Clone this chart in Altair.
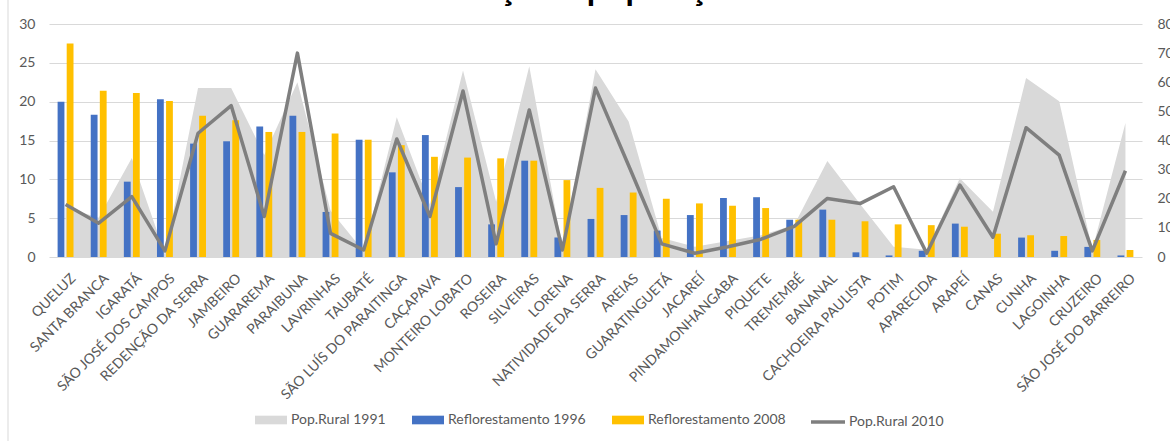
import altair as alt
import pandas as pd

# Municipalities, in the order shown on the category axis
MUNICIPIOS = [
    "QUELUZ", "SANTA BRANCA", "IGARATÁ", "SÃO JOSÉ DOS CAMPOS", "REDENÇÃO DA SERRA",
    "JAMBEIRO", "GUARAREMA", "PARAIBUNA", "LAVRINHAS", "TAUBATÉ",
    "SÃO LUÍS DO PARAITINGA", "CAÇAPAVA", "MONTEIRO LOBATO", "ROSEIRA", "SILVEIRAS",
    "LORENA", "NATIVIDADE DA SERRA", "AREIAS", "GUARATINGUETÁ", "JACAREÍ",
    "PINDAMONHANGABA", "PIQUETE", "TREMEMBÉ", "BANANAL", "CACHOEIRA PAULISTA",
    "POTIM", "APARECIDA", "ARAPEÍ", "CANAS", "CUNHA",
    "LAGOINHA", "CRUZEIRO", "SÃO JOSÉ DO BARREIRO",
]

SERIES = ["Pop.Rural 1991", "Reflorestamento 1996", "Reflorestamento 2008", "Pop.Rural 2010"]

# Reforestation (left axis)
REFLOR_1996 = [20.0, 18.3, 9.7, 20.3, 14.6, 14.9, 16.8, 18.2, 5.8, 15.1,
               10.9, 15.7, 9.0, 4.2, 12.4, 2.5, 4.9, 5.4, 3.4, 5.4,
               7.6, 7.7, 4.8, 6.1, 0.6, 0.2, 0.8, 4.3, 0.0, 2.5,
               0.8, 1.3, 0.2]
REFLOR_2008 = [27.5, 21.4, 21.1, 20.1, 18.2, 17.6, 16.1, 16.1, 15.9, 15.1,
               14.4, 12.9, 12.8, 12.7, 12.4, 9.9, 8.9, 8.3, 7.5, 6.9,
               6.6, 6.3, 4.8, 4.8, 4.6, 4.2, 4.1, 3.9, 3.0, 2.8,
               2.7, 2.2, 0.9]

# Rural population (right axis)
POP_1991 = [17.0, 13.5, 34.0, 1.0, 58.0, 58.0, 35.0, 60.0, 16.0, 2.0,
            48.0, 18.0, 64.0, 19.0, 65.5, 3.0, 64.5, 46.5, 6.5, 3.5,
            5.5, 7.5, 11.0, 33.0, 18.0, 3.5, 2.5, 27.0, 15.5, 61.5,
            53.5, 2.5, 46.0]
POP_2010 = [18.0, 11.6, 20.7, 2.1, 42.5, 52.0, 13.9, 70.0, 8.1, 2.4,
            40.5, 13.9, 57.0, 4.5, 50.5, 2.4, 58.0, 31.4, 4.5, 1.3,
            3.5, 6.1, 10.5, 20.1, 18.4, 24.1, 1.3, 24.7, 6.8, 44.4,
            35.0, 2.1, 29.6]

TITULO = "Reflorestação e população rural"

FONT = "Lato"
GRAY = "#595959"
GRID = "#d9d9d9"

pop = pd.DataFrame({
    "municipio": MUNICIPIOS,
    "pop1991": POP_1991,
    "pop2010": POP_2010,
    "s91": SERIES[0],
    "s10": SERIES[3],
})
refl = pd.DataFrame({
    "municipio": MUNICIPIOS * 2,
    "serie": [SERIES[1]] * len(MUNICIPIOS) + [SERIES[2]] * len(MUNICIPIOS),
    "valor": REFLOR_1996 + REFLOR_2008,
})
titulo = pd.DataFrame({"titulo": [TITULO]})

x_enc = alt.X(
    "municipio:N",
    sort=MUNICIPIOS,
    scale=alt.Scale(paddingInner=0.52, paddingOuter=0.26),
    axis=alt.Axis(
        title=None, labelAngle=-45, labelAlign="right", labelBaseline="top",
        labelPadding=14, labelOffset=3, labelOverlap=False, labelLimit=0,
        domain=False, ticks=False, grid=False,
    ),
)

fill_scale = alt.Scale(domain=SERIES[:3], range=["#d9d9d9", "#4472c4", "#ffc000"])
fill_legend = alt.Legend(
    title=None, orient="none", legendX=206, legendY=380, direction="horizontal",
    symbolType="M-1,-0.27H1V0.27H-1Z", symbolSize=1024, symbolStrokeWidth=0,
    columnPadding=26, labelOffset=4, padding=0,
)

frame = alt.Chart(titulo).mark_rule(color=GRID, strokeWidth=1).encode(
    x=alt.value(-41), y=alt.value(-24), y2=alt.value(417)
)

area = alt.Chart(pop).mark_area(opacity=1).encode(
    x=x_enc,
    y=alt.Y(
        "pop1991:Q",
        scale=alt.Scale(domain=[0, 80]),
        axis=alt.Axis(
            orient="right", values=list(range(0, 81, 10)), grid=False,
            domain=False, ticks=False, labelPadding=15, title=None,
        ),
    ),
    fill=alt.Fill("s91:N", scale=fill_scale, legend=fill_legend),
)

bars = alt.Chart(refl).mark_bar().encode(
    x=x_enc,
    xOffset=alt.XOffset(
        "serie:N", sort=SERIES[1:3],
        scale=alt.Scale(domain=SERIES[1:3], paddingInner=0.25, paddingOuter=0),
    ),
    y=alt.Y(
        "valor:Q",
        scale=alt.Scale(domain=[0, 30]),
        axis=alt.Axis(
            orient="left", values=list(range(0, 31, 5)), grid=True,
            gridColor=GRID, gridWidth=1, domain=False, ticks=False,
            labelPadding=14, title=None,
        ),
    ),
    fill=alt.Fill("serie:N", scale=fill_scale, legend=fill_legend),
)

line = alt.Chart(pop).mark_line(strokeWidth=3.5, strokeJoin="round").encode(
    x=x_enc,
    y=alt.Y("pop2010:Q", scale=alt.Scale(domain=[0, 80]), axis=None),
    stroke=alt.Stroke(
        "s10:N",
        scale=alt.Scale(domain=[SERIES[3]], range=["#7f7f7f"]),
        legend=alt.Legend(
            title=None, orient="none", legendX=760, legendY=379,
            symbolType="stroke", symbolSize=1156, symbolStrokeWidth=3.5,
            labelOffset=2, padding=0,
        ),
    ),
)

title = alt.Chart(titulo).mark_text(
    font=FONT, fontSize=34, fontWeight="bold", color="#000000",
    align="center", baseline="alphabetic",
).encode(text="titulo:N", x=alt.value(534), y=alt.value(-24))

chart = (
    alt.layer(frame, area, bars, line, title)
    .resolve_scale(y="independent")
    .properties(
        width=1093,
        height=233,
        padding={"left": 49, "top": 24, "right": 28, "bottom": 184},
        autosize=alt.AutoSizeParams(type="none"),
        background="white",
    )
    .configure_view(stroke=None)
    .configure_axis(labelFont=FONT, labelFontSize=14, labelColor=GRAY)
    .configure_legend(labelFont=FONT, labelFontSize=14, labelColor=GRAY)
)

chart.save("out.html", embed_options={"renderer": "svg", "actions": False})
